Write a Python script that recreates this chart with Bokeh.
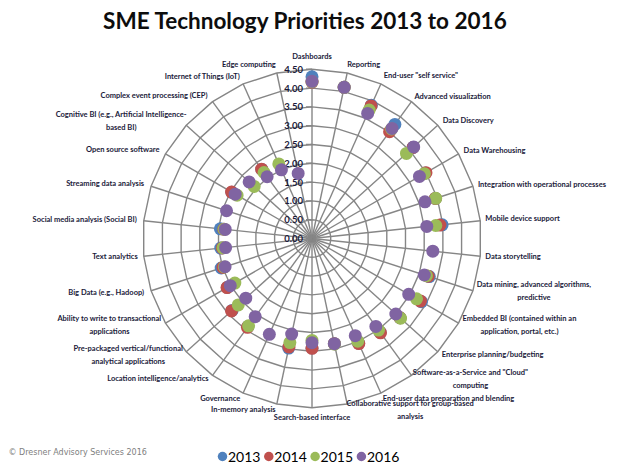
import math
from bokeh.plotting import figure
from bokeh.models import ColumnDataSource
from bokeh.core.properties import value, field
from bokeh.embed import file_html
from bokeh.resources import INLINE

nan = float("nan")

categories = [
    "Dashboards", "Reporting", "End-user \"self service\"", "Advanced visualization",
    "Data Discovery", "Data Warehousing", "Integration with operational processes",
    "Mobile device support", "Data storytelling",
    "Data mining, advanced algorithms,\npredictive",
    "Embedded BI (contained within an\napplication, portal, etc.)",
    "Enterprise planning/budgeting",
    "Software-as-a-Service and \"Cloud\"\ncomputing",
    "End-user data preparation and blending",
    "Collaborative support for group-based\nanalysis",
    "Search-based interface", "In-memory analysis", "Governance",
    "Location intelligence/analytics",
    "Pre-packaged vertical/functional\nanalytical applications",
    "Ability to write to transactional\napplications",
    "Big Data (e.g., Hadoop)", "Text analytics", "Social media analysis (Social BI)",
    "Streaming data analysis", "Open source software",
    "Cognitive BI (e.g., Artificial Intelligence-\nbased BI)",
    "Complex event processing (CEP)", "Internet of Things (IoT)", "Edge computing",
]

years = ["2013", "2014", "2015", "2016"]

v2013 = [4.30, 4.11, 3.88, 3.75, 3.62, 3.48, 3.45, 3.48, nan, 3.28,
         3.36, 3.15, 3.08, 3.05, 2.86, 2.91, 2.98, nan, 2.90, 2.86,
         2.60, 2.54, 2.44, 2.45, nan, 2.46, nan, 2.27, nan, nan]
v2014 = [4.16, 4.11, 3.86, 3.51, 3.62, 3.50, 3.45, 3.42, nan, 3.25,
         3.33, 3.15, 3.10, 3.06, 2.86, 2.92, 2.95, nan, 2.92, 2.88,
         2.61, 2.49, 2.40, 2.36, nan, 2.47, nan, 2.28, nan, nan]
v2015 = [4.17, 4.11, 3.74, 3.60, 3.38, 3.45, 3.46, 3.31, nan, 3.20,
         3.21, 3.17, 3.01, 2.99, 2.87, 2.71, 2.83, nan, 2.87, 2.64,
         2.37, 2.45, 2.38, 2.35, nan, 2.30, 2.07, 2.17, 2.17, nan]
v2016 = [4.18, 4.11, 3.64, 3.62, 3.64, 3.30, 3.16, 3.07, 3.23, 3.14,
         2.97, 3.00, 2.89, 2.83, 2.86, 2.77, 2.60, 2.79, 2.57, 2.37,
         2.51, 2.43, 2.31, 2.32, 2.39, 2.36, 2.25, 2.03, 2.00, 1.77]

series = [v2013, v2014, v2015, v2016]
colors = ["#4F81BD", "#C0504D", "#9BBB59", "#8064A2"]

ticks = [0.0, 0.5, 1.0, 1.5, 2.0, 2.5, 3.0, 3.5, 4.0, 4.5]
tick_labels = ["%.2f" % t for t in ticks]

# label layout: (align, x offset px, y offset px)
label_layout = [
    ("center", 0, -13), ("left", 0, -8), ("left", 3, -8), ("left", 3, -5),
    ("left", 5, -5), ("left", 5, -3), ("left", 5, -2), ("left", 5, -2),
    ("left", 5, 0), ("center", 61, 0), ("center", 61, 2), ("left", 4, 3),
    ("center", 59, 4), ("left", 2, 5), ("center", 63, 6), ("center", 0, 10),
    ("right", -1, 5), ("right", -3, 5), ("right", -4, 3), ("center", -58, 3),
    ("center", -56, 2), ("right", -7, 1.5), ("right", -6, 0), ("right", -7, -1),
    ("right", -7, -2.5), ("right", -6, -4), ("center", -65, -4), ("right", -5, -6),
    ("right", -3, -7), ("right", -1, -8),
]

W, H = 616, 470
S = 37.6          # pixels per unit
CX, CY = 311.5, 238.0
x0 = -CX / S
x1 = x0 + W / S
y1 = CY / S
y0 = y1 - H / S


def ix(px):
    return x0 + px / S


def iy(py):
    return y1 - py / S


n = len(categories)
ang = [2 * math.pi * i / n for i in range(n)]

p = figure(width=W, height=H, x_range=(x0, x1), y_range=(y0, y1),
           output_backend="svg", toolbar_location=None, min_border=0,
           x_axis_location=None, y_axis_location=None,
           outline_line_color=None, background_fill_color="white")
p.grid.visible = False

grid_color = "#868686"
rmax = ticks[-1]

# rings (polygonal)
rx, ry = [], []
for t in ticks[1:]:
    rx.append([t * math.sin(a) for a in ang] + [0.0])
    ry.append([t * math.cos(a) for a in ang] + [t])
p.multi_line(rx, ry, line_color=grid_color, line_width=1.4)

# spokes
sx = [[0, rmax * math.sin(a)] for a in ang]
sy = [[0, rmax * math.cos(a)] for a in ang]
p.multi_line(sx, sy, line_color=grid_color, line_width=1.4)

# tick marks and tick labels
tick_len = 6 / S
p.segment(x0=[-tick_len] * len(ticks), y0=ticks, x1=[0.0] * len(ticks), y1=ticks,
          line_color=grid_color, line_width=1.4)
p.text(x=[-9 / S] * len(ticks), y=ticks, text=tick_labels,
       text_align="right", text_baseline="middle",
       text_font=value("Lato"), text_font_style="bold",
       text_font_size="9.5px", text_color="#1a1a3a")

# data points
for vals, col in zip(series, colors):
    xs = [v * math.sin(a) for v, a in zip(vals, ang)]
    ys = [v * math.cos(a) for v, a in zip(vals, ang)]
    p.scatter(xs, ys, size=13, fill_color=col, line_color=None)

# category labels
lab_src = ColumnDataSource(dict(
    x=[rmax * math.sin(a) for a in ang],
    y=[rmax * math.cos(a) for a in ang],
    text=categories,
    align=[l[0] for l in label_layout],
    xo=[l[1] for l in label_layout],
    yo=[l[2] for l in label_layout],
))
p.text(x="x", y="y", text="text", source=lab_src,
       text_align=field("align"), text_baseline="middle",
       x_offset="xo", y_offset="yo",
       text_font=value("Lato"), text_font_style="bold",
       text_font_size="7.5px", text_line_height=1.45, text_color="#1a1a3a")

# title
p.text(x=[ix(305)], y=[iy(20)], text=["SME Technology Priorities 2013 to 2016"],
       text_align="center", text_baseline="middle",
       text_font=value("Lato"), text_font_style="bold",
       text_font_size="22.5px", text_color="#0d0d0d")

# copyright
p.text(x=[ix(8)], y=[iy(452)], text=["\u00a9 Dresner Advisory Services 2016"],
       text_align="left", text_baseline="middle",
       text_font=value("DejaVu Sans"), text_font_size="8px",
       text_color="#808080")

# legend (drawn as a row of swatches and labels)
leg_step = 46.3
leg_x = [ix(222 + leg_step * i) for i in range(len(years))]
leg_tx = [ix(227.5 + leg_step * i) for i in range(len(years))]
leg_y = [iy(456)] * len(years)
p.scatter(leg_x, leg_y, size=9.5, fill_color=colors, line_color=None)
p.text(x=leg_tx, y=leg_y, text=years, text_align="left", text_baseline="middle",
       text_font=value("Lato"), text_font_size="14px", text_color="#000000")

open("out.html", "w").write(file_html(p, INLINE))
